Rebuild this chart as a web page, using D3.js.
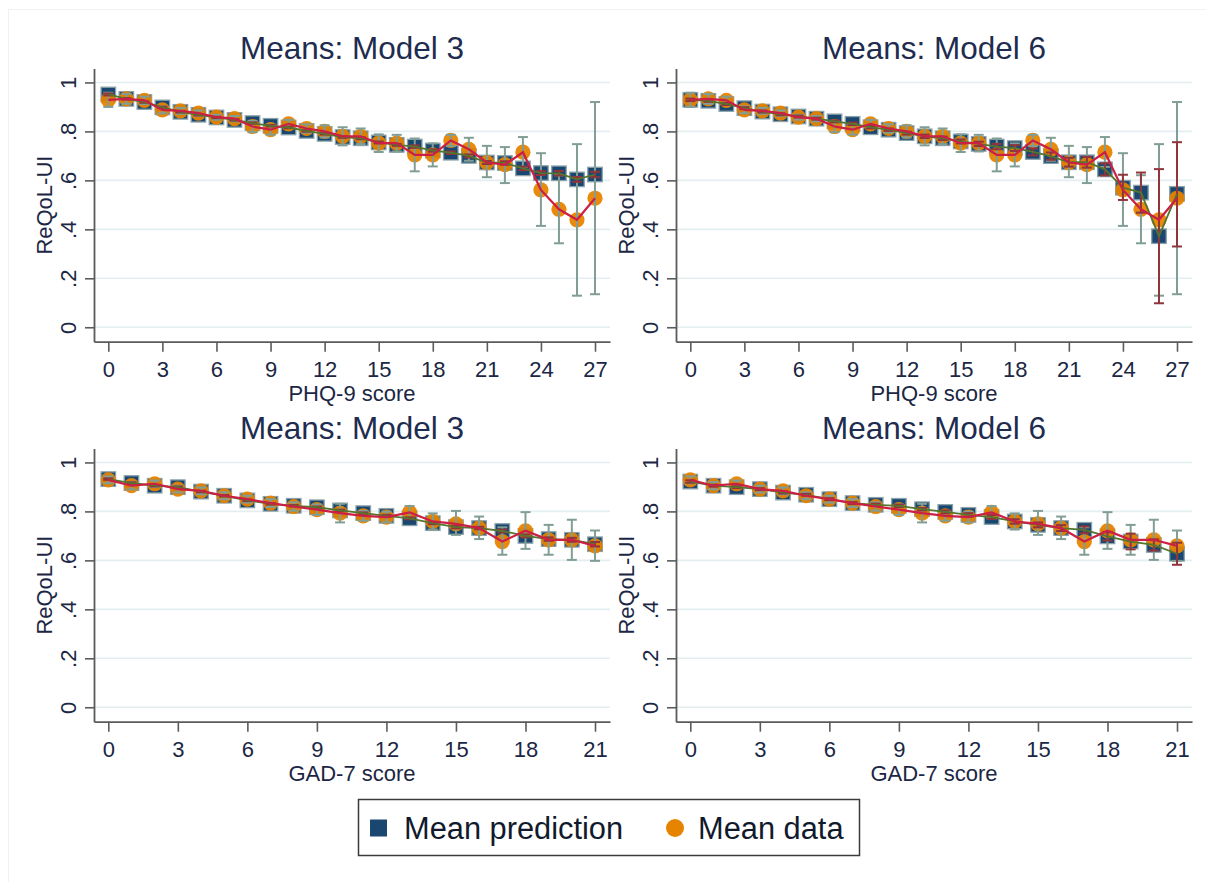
<!DOCTYPE html>
<html>
<head>
<meta charset="utf-8">
<script src="https://cdn.jsdelivr.net/npm/d3@7"></script>
<style>
  html, body { margin: 0; padding: 0; background: #ffffff; }
  svg { display: block; font-family: "Liberation Sans", Arial, sans-serif; }
</style>
</head>
<body>
<svg id="chart" width="1206" height="882"></svg>
<script>
// ---------------- DATA ----------------
const phqScores = [0,1,2,3,4,5,6,7,8,9,10,11,12,13,14,15,16,17,18,19,20,21,22,23,24,25,26,27];
const gadScores = [0,1,2,3,4,5,6,7,8,9,10,11,12,13,14,15,16,17,18,19,20,21];
const phqTicks = [0,3,6,9,12,15,18,21,24,27];
const gadTicks = [0,3,6,9,12,15,18,21];
const yTicks = [0,0.2,0.4,0.6,0.8,1];
const yTickLabels = ["0",".2",".4",".6",".8","1"];
const panelTitles = ["Means: Model 3","Means: Model 6","Means: Model 3","Means: Model 6"];
const xTitles = ["PHQ-9 score","PHQ-9 score","GAD-7 score","GAD-7 score"];
const yTitle = "ReQoL-UI";
const legendLabels = ["Mean prediction","Mean data"];

// PHQ-9: observed mean data and its CI (same in both models)
const phqData   = [0.929,0.933,0.927,0.888,0.884,0.875,0.858,0.852,0.820,0.807,0.831,0.812,0.800,0.780,0.780,0.752,0.752,0.704,0.704,0.763,0.727,0.673,0.664,0.715,0.561,0.482,0.439,0.527];
const phqDataLo = [0.900,0.913,0.912,0.874,0.872,0.864,0.848,0.841,0.797,0.787,0.815,0.795,0.775,0.743,0.748,0.716,0.718,0.637,0.657,0.740,0.680,0.613,0.589,0.655,0.414,0.343,0.129,0.135];
const phqDataHi = [0.958,0.953,0.942,0.902,0.896,0.886,0.868,0.863,0.843,0.827,0.847,0.829,0.825,0.817,0.812,0.788,0.786,0.771,0.751,0.786,0.774,0.741,0.736,0.777,0.711,0.621,0.748,0.920];
// PHQ-9 Model 3 predictions
const phqPredM3   = [0.951,0.933,0.920,0.898,0.880,0.868,0.857,0.847,0.834,0.823,0.816,0.802,0.790,0.777,0.772,0.755,0.745,0.738,0.722,0.713,0.700,0.673,0.671,0.649,0.630,0.629,0.604,0.624];
const phqPredM3Lo = [0.947,0.930,0.917,0.895,0.877,0.865,0.854,0.844,0.831,0.820,0.813,0.799,0.787,0.774,0.768,0.751,0.741,0.733,0.717,0.708,0.694,0.667,0.664,0.642,0.622,0.620,0.594,0.613];
const phqPredM3Hi = [0.955,0.936,0.923,0.901,0.883,0.871,0.860,0.850,0.837,0.826,0.819,0.805,0.793,0.780,0.776,0.759,0.749,0.743,0.727,0.718,0.706,0.679,0.678,0.656,0.638,0.638,0.614,0.635];
// PHQ-9 Model 6 predictions
const phqPredM6   = [0.929,0.925,0.912,0.895,0.881,0.870,0.861,0.852,0.841,0.831,0.817,0.807,0.793,0.780,0.772,0.759,0.749,0.738,0.732,0.716,0.699,0.674,0.674,0.645,0.570,0.550,0.372,0.545];
const phqPredM6Lo = [0.924,0.921,0.908,0.891,0.877,0.866,0.857,0.848,0.837,0.826,0.812,0.802,0.787,0.773,0.765,0.751,0.740,0.727,0.720,0.702,0.684,0.656,0.652,0.620,0.520,0.468,0.098,0.330];
const phqPredM6Hi = [0.934,0.929,0.916,0.899,0.885,0.874,0.865,0.856,0.845,0.836,0.822,0.812,0.799,0.787,0.779,0.767,0.758,0.749,0.744,0.730,0.714,0.692,0.696,0.670,0.623,0.632,0.646,0.756];

// GAD-7: observed mean data and its CI (same in both models)
const gadData   = [0.929,0.905,0.913,0.891,0.884,0.864,0.850,0.834,0.820,0.807,0.793,0.782,0.777,0.796,0.759,0.749,0.732,0.677,0.721,0.684,0.684,0.659];
const gadDataLo = [0.915,0.890,0.900,0.877,0.870,0.850,0.836,0.818,0.803,0.786,0.755,0.762,0.755,0.770,0.726,0.704,0.687,0.623,0.647,0.623,0.602,0.598];
const gadDataHi = [0.943,0.920,0.926,0.905,0.898,0.878,0.864,0.850,0.837,0.828,0.831,0.802,0.799,0.822,0.792,0.802,0.779,0.735,0.797,0.745,0.766,0.722];
// GAD-7 Model 3 predictions
const gadPredM3   = [0.932,0.916,0.905,0.899,0.881,0.864,0.845,0.831,0.823,0.817,0.804,0.793,0.782,0.772,0.752,0.736,0.732,0.720,0.700,0.687,0.684,0.666];
const gadPredM3Lo = [0.929,0.913,0.902,0.896,0.878,0.861,0.842,0.828,0.820,0.814,0.801,0.790,0.778,0.768,0.748,0.731,0.727,0.714,0.694,0.680,0.676,0.657];
const gadPredM3Hi = [0.935,0.919,0.908,0.902,0.884,0.867,0.848,0.834,0.826,0.820,0.807,0.796,0.786,0.776,0.756,0.741,0.737,0.726,0.706,0.694,0.692,0.675];
// GAD-7 Model 6 predictions
const gadPredM6   = [0.922,0.905,0.899,0.891,0.877,0.868,0.850,0.834,0.827,0.823,0.809,0.798,0.786,0.777,0.759,0.745,0.732,0.725,0.698,0.677,0.663,0.627];
const gadPredM6Lo = [0.917,0.901,0.895,0.887,0.873,0.864,0.846,0.830,0.822,0.818,0.804,0.792,0.779,0.769,0.750,0.735,0.720,0.711,0.681,0.645,0.640,0.582];
const gadPredM6Hi = [0.927,0.909,0.903,0.895,0.881,0.872,0.854,0.838,0.832,0.828,0.814,0.804,0.793,0.785,0.768,0.755,0.744,0.739,0.715,0.709,0.686,0.672];

// ---------------- LAYOUT / STYLE ----------------
const C = {
  grid: "#e4eef0", axis: "#5b5b5b", text: "#1b2744", title: "#1e2c50",
  navy: "#1a476f", navyEdge: "#8aa2ab", orange: "#e68400",
  teal: "#809e95", maroon: "#90353b", green: "#55752f", red: "#cc1f45"
};

const panels = [
  {left: 94,  right: 610,  top: 68.5, bottom: 341.7, scores: phqScores, ticks: phqTicks, xmax: 27,
   data: phqData, dLo: phqDataLo, dHi: phqDataHi, pred: phqPredM3, pLo: phqPredM3Lo, pHi: phqPredM3Hi},
  {left: 676, right: 1192, top: 68.5, bottom: 341.7, scores: phqScores, ticks: phqTicks, xmax: 27,
   data: phqData, dLo: phqDataLo, dHi: phqDataHi, pred: phqPredM6, pLo: phqPredM6Lo, pHi: phqPredM6Hi},
  {left: 94,  right: 610,  top: 448.5, bottom: 721.7, scores: gadScores, ticks: gadTicks, xmax: 21,
   data: gadData, dLo: gadDataLo, dHi: gadDataHi, pred: gadPredM3, pLo: gadPredM3Lo, pHi: gadPredM3Hi},
  {left: 676, right: 1192, top: 448.5, bottom: 721.7, scores: gadScores, ticks: gadTicks, xmax: 21,
   data: gadData, dLo: gadDataLo, dHi: gadDataHi, pred: gadPredM6, pLo: gadPredM6Lo, pHi: gadPredM6Hi}
];

const svg = d3.select("#chart");
svg.append("rect").attr("width", 1206).attr("height", 882).attr("fill", "#fff");
svg.append("rect").attr("x", 8.5).attr("y", 9.5).attr("width", 1400).attr("height", 1200)
   .attr("fill", "none").attr("stroke", "#f1f1f1").attr("stroke-width", 1);

panels.forEach((p, i) => {
  const x = d3.scaleLinear().domain([-0.0294 * p.xmax, 1.0308 * p.xmax]).range([p.left, p.right]);
  const y = d3.scaleLinear().domain([-0.059, 1.057]).range([p.bottom, p.top]);
  const g = svg.append("g");

  // gridlines
  g.selectAll("line.grid").data(yTicks).join("line")
    .attr("x1", p.left).attr("x2", p.right)
    .attr("y1", d => y(d)).attr("y2", d => y(d))
    .attr("stroke", C.grid).attr("stroke-width", 1.6);

  // y axis
  const ya = g.append("g").attr("transform", `translate(${p.left},0)`)
    .call(d3.axisLeft(y).tickValues(yTicks).tickSize(9).tickSizeOuter(0)
      .tickFormat((d, k) => yTickLabels[k]));
  ya.select(".domain").attr("stroke", C.axis).attr("stroke-width", 1.8);
  ya.selectAll(".tick line").attr("stroke", C.axis).attr("stroke-width", 1.6);
  ya.selectAll(".tick text")
    .attr("x", null).attr("dy", null)
    .attr("transform", "translate(-18,0) rotate(-90)")
    .attr("text-anchor", "middle")
    .attr("fill", C.text).attr("font-size", 22)
    .attr("font-family", "Liberation Sans, Arial, sans-serif");

  // x axis
  const xa = g.append("g").attr("transform", `translate(0,${p.bottom})`)
    .call(d3.axisBottom(x).tickValues(p.ticks).tickSize(10).tickSizeOuter(0).tickFormat(d3.format("d")));
  xa.select(".domain").attr("stroke", C.axis).attr("stroke-width", 1.8);
  xa.selectAll(".tick line").attr("stroke", C.axis).attr("stroke-width", 1.6);
  xa.selectAll(".tick text")
    .attr("y", 35).attr("dy", null)
    .attr("fill", C.text).attr("font-size", 22)
    .attr("font-family", "Liberation Sans, Arial, sans-serif");

  // titles
  const cx = (p.left + p.right) / 2;
  g.append("text").attr("x", cx).attr("y", p.top - 9.5)
    .attr("text-anchor", "middle").attr("font-size", 31.5).attr("fill", C.title)
    .text(panelTitles[i]);
  g.append("text").attr("x", cx).attr("y", p.bottom + 59.5)
    .attr("text-anchor", "middle").attr("font-size", 22).attr("fill", C.text)
    .text(xTitles[i]);
  g.append("text")
    .attr("transform", `translate(${p.left - 42},${(p.top + p.bottom) / 2}) rotate(-90)`)
    .attr("text-anchor", "middle").attr("font-size", 22).attr("fill", C.text)
    .text(yTitle);

  const idx = p.scores.map((s, k) => k);

  // prediction squares
  const sq = 14.5;
  g.selectAll("rect.pred").data(idx).join("rect")
    .attr("x", k => x(p.scores[k]) - sq / 2).attr("y", k => y(p.pred[k]) - sq / 2)
    .attr("width", sq).attr("height", sq)
    .attr("fill", C.navy).attr("stroke", C.navyEdge).attr("stroke-width", 1.3);

  // data circles
  g.selectAll("circle.data").data(idx).join("circle")
    .attr("cx", k => x(p.scores[k])).attr("cy", k => y(p.data[k])).attr("r", 7.6)
    .attr("fill", C.orange).attr("fill-opacity", 0.95);

  // CI bars (rcap)
  function rcap(lo, hi, color, cls) {
    const cw = 5;
    const bars = g.selectAll("g." + cls).data(idx).join("g").attr("class", cls);
    bars.append("line")
      .attr("x1", k => x(p.scores[k])).attr("x2", k => x(p.scores[k]))
      .attr("y1", k => y(lo[k])).attr("y2", k => y(hi[k]));
    bars.append("line")
      .attr("x1", k => x(p.scores[k]) - cw).attr("x2", k => x(p.scores[k]) + cw)
      .attr("y1", k => y(lo[k])).attr("y2", k => y(lo[k]));
    bars.append("line")
      .attr("x1", k => x(p.scores[k]) - cw).attr("x2", k => x(p.scores[k]) + cw)
      .attr("y1", k => y(hi[k])).attr("y2", k => y(hi[k]));
    bars.selectAll("line").attr("stroke", color).attr("stroke-width", 2);
  }
  rcap(p.dLo, p.dHi, C.teal, "dci");
  rcap(p.pLo, p.pHi, C.maroon, "pci");

  // connecting lines
  const lineP = d3.line().x(k => x(p.scores[k])).y(k => y(p.pred[k]));
  const lineD = d3.line().x(k => x(p.scores[k])).y(k => y(p.data[k]));
  g.append("path").attr("d", lineP(idx)).attr("fill", "none")
    .attr("stroke", C.green).attr("stroke-width", 1.8);
  g.append("path").attr("d", lineD(idx)).attr("fill", "none")
    .attr("stroke", C.red).attr("stroke-width", 2.2);
});

// ---------------- LEGEND ----------------
const lg = svg.append("g");
lg.append("rect").attr("x", 358.5).attr("y", 799.5).attr("width", 501).attr("height", 56)
  .attr("fill", "#fff").attr("stroke", "#3a3a3a").attr("stroke-width", 1.5);
lg.append("rect").attr("x", 370).attr("y", 819.5).attr("width", 17).attr("height", 17).attr("fill", C.navy);
lg.append("text").attr("x", 404).attr("y", 839).attr("font-size", 30.8).attr("fill", "#111a2c")
  .text(legendLabels[0]);
lg.append("circle").attr("cx", 675).attr("cy", 828).attr("r", 9).attr("fill", C.orange);
lg.append("text").attr("x", 698).attr("y", 839).attr("font-size", 30.8).attr("fill", "#111a2c")
  .text(legendLabels[1]);
</script>
</body>
</html>
